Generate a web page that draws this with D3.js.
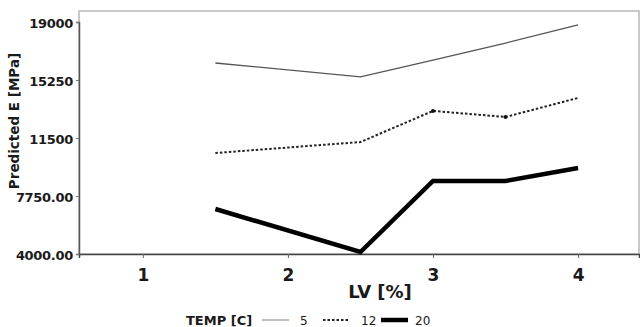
<!DOCTYPE html>
<html>
<head>
<meta charset="utf-8">
<script src="https://cdn.jsdelivr.net/npm/d3@7"></script>
<style>
  body { margin: 0; background: #fff; }
  text { font-family: "DejaVu Sans", sans-serif; font-weight: bold; fill: #1a1a1a; }
</style>
</head>
<body>
<script>
// data
const lv_values = [1.5, 2.5, 3, 3.5, 4];
const temp_5 = [16350, 15450, 16540, 17640, 18810];
const temp_12 = [10530, 11240, 13250, 12860, 14090];
const temp_20 = [6910, 4130, 8720, 8720, 9560];
const x_ticks = [1, 2, 3, 4];
const y_ticks = [4000, 7750, 11500, 15250, 19000];
const y_tick_labels = ["4000.00", "7750.00", "11500", "15250", "19000"];
const legend_labels = ["5", "12", "20"];

const width = 640, height = 327;
const margin = {top: 11, right: 1, bottom: 73, left: 79};

const svg = d3.select("body").append("svg")
    .attr("width", width)
    .attr("height", height);

var x = d3.scaleLinear().domain([0.56, 4.42]).range([margin.left, width - margin.right]);
var y = d3.scaleLinear().domain([4000, 19000]).range([height - margin.bottom, 22]);

// frame
svg.append("rect")
    .attr("x", margin.left)
    .attr("y", margin.top)
    .attr("width", width - margin.right - margin.left)
    .attr("height", height - margin.bottom - margin.top)
    .attr("fill", "none")
    .attr("stroke", "#b8b8b8")
    .attr("stroke-width", 1.5);

// axes
var x_axis = d3.axisBottom(x).tickValues(x_ticks).tickSize(4).tickFormat(d3.format("d"));
var y_axis = d3.axisLeft(y).tickValues(y_ticks).tickSize(3)
    .tickFormat(function(d, i) { return y_tick_labels[i]; });

const gx = svg.append("g")
    .attr("transform", `translate(0,${height - margin.bottom})`)
    .call(x_axis);
gx.select(".domain").attr("stroke", "#444").attr("stroke-width", 1.5);
gx.selectAll(".tick line").attr("stroke", "#666");
gx.selectAll(".tick text")
    .attr("dy", null).attr("y", 27)
    .style("font-size", "17px")
    .attr("fill", "#1a1a1a");

const gy = svg.append("g")
    .attr("transform", `translate(${margin.left},0)`)
    .call(y_axis);
gy.select(".domain").attr("stroke", "#555").attr("stroke-width", 1.5);
gy.selectAll(".tick line").attr("stroke", "#777");
gy.selectAll(".tick text")
    .attr("x", -6).attr("dy", "0.42em")
    .style("font-size", "13px")
    .style("letter-spacing", "-0.3px")
    .attr("fill", "#1a1a1a");

// axis titles
svg.append("text")
    .attr("x", 380).attr("y", 298)
    .attr("text-anchor", "middle")
    .style("font-size", "18px")
    .text("LV [%]");

svg.append("text")
    .attr("transform", "translate(19,121) rotate(-90)")
    .attr("text-anchor", "middle")
    .style("font-size", "13.5px")
    .text("Predicted E [MPa]");

// lines
const series = [
    {vals: temp_5, stroke: "#555", width: 1.3, dash: null},
    {vals: temp_12, stroke: "#222", width: 2, dash: "2.5,2"},
    {vals: temp_20, stroke: "#000", width: 4.5, dash: null}
];

var line = d3.line()
    .x(function(d, i) { return x(lv_values[i]); })
    .y(function(d) { return y(d); });

series.forEach(function(s) {
    svg.append("path")
        .datum(s.vals)
        .attr("d", line)
        .attr("fill", "none")
        .attr("stroke", s.stroke)
        .attr("stroke-width", s.width)
        .attr("stroke-dasharray", s.dash)
        .attr("stroke-linejoin", "miter");
});

// small knot dots on the dotted line
svg.selectAll(".knot")
    .data([2, 3])
    .enter().append("circle")
    .attr("cx", function(i) { return x(lv_values[i]); })
    .attr("cy", function(i) { return y(temp_12[i]); })
    .attr("r", 2)
    .attr("fill", "#111");

// legend
const lg = svg.append("g");
lg.append("text")
    .attr("x", 186).attr("y", 325)
    .style("font-size", "13px")
    .text("TEMP [C]");

const legend_pos = [262, 323, 381];
series.forEach(function(s, i) {
    lg.append("line")
        .attr("x1", legend_pos[i]).attr("x2", legend_pos[i] + 27)
        .attr("y1", 320).attr("y2", 320)
        .attr("stroke", i == 0 ? "#999" : s.stroke)
        .attr("stroke-width", s.width)
        .attr("stroke-dasharray", s.dash);
    lg.append("text")
        .attr("x", legend_pos[i] + (i == 2 ? 34 : 38))
        .attr("y", 324.5)
        .style("font-size", "12px")
        .style("font-weight", "normal")
        .text(legend_labels[i]);
});
</script>
</body>
</html>
